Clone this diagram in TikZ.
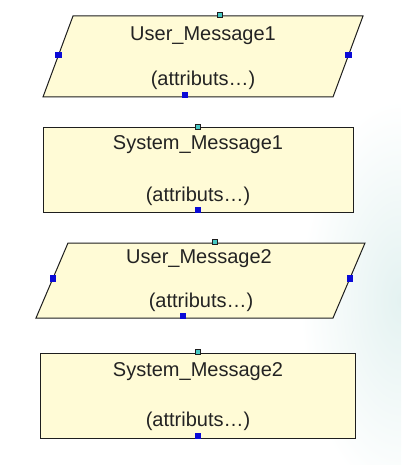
\documentclass[tikz,border=0pt]{standalone}
\usepackage{fontspec}
\setmainfont{Liberation Sans}
\usetikzlibrary{calc}
\definecolor{boxfill}{RGB}{255,251,214}
\definecolor{boxline}{RGB}{30,30,30}
\definecolor{txt}{RGB}{35,35,35}
\definecolor{hblue}{RGB}{10,10,215}
\definecolor{hcyan}{RGB}{70,200,195}
\definecolor{wm}{RGB}{228,242,241}
\begin{document}
\begin{tikzpicture}[x=1pt,y=-1pt,
  shapebox/.style={draw=boxline,fill=boxfill,line width=1pt},
  label/.style={font=\fontsize{20}{23}\selectfont,text=txt,inner sep=0pt},
  hb/.style={fill=hblue,draw=none,minimum size=6.5pt,inner sep=0pt},
  hc/.style={fill=hcyan,draw=boxline,line width=0.6pt,minimum size=5.5pt,inner sep=0pt}]
\useasboundingbox (0,0) rectangle (401,465);
\fill[white] (0,0) rectangle (401,465);
% faint watermark on the right
\begin{scope}
\clip (0,0) rectangle (401,465);
\shade[inner color=wm,outer color=white] (400,300) ellipse (100 and 200);
\end{scope}
% User_Message1
\coordinate (p1tl) at (73,16); \coordinate (p1tr) at (363,16);
\coordinate (p1br) at (333,97); \coordinate (p1bl) at (43,97);
\draw[shapebox] (p1tl) -- (p1tr) -- (p1br) -- (p1bl) -- cycle;
\node[label] (u1) at (203,36) {User\_Message1};
\node[label] (u1a) at (203,80) {(attributs…)};
\node[hc] (u1t) at (220,15) {};
\node[hb] (u1l) at ($(p1bl)!0.52!(p1tl)$) {};
\node[hb] (u1r) at ($(p1br)!0.52!(p1tr)$) {};
\node[hb] (u1b) at (185,95) {};
% System_Message1
\draw[shapebox] (43,128) rectangle (353,212);
\node[label] (s1) at (198,145) {System\_Message1};
\node[label] (s1a) at (198,196) {(attributs…)};
\node[hc] (s1t) at (198,127) {};
\node[hb] (s1b) at (198,210) {};
% User_Message2
\coordinate (p2tl) at (68,243); \coordinate (p2tr) at (365,243);
\coordinate (p2br) at (333,318); \coordinate (p2bl) at (36,318);
\draw[shapebox] (p2tl) -- (p2tr) -- (p2br) -- (p2bl) -- cycle;
\node[label] (u2) at (199,259) {User\_Message2};
\node[label] (u2a) at (201,302) {(attributs…)};
\node[hc] (u2t) at (215,242) {};
\node[hb] (u2l) at ($(p2bl)!0.53!(p2tl)$) {};
\node[hb] (u2r) at ($(p2br)!0.53!(p2tr)$) {};
\node[hb] (u2b) at (183,316) {};
% System_Message2
\draw[shapebox] (40,353) rectangle (355,438);
\node[label] (s2) at (198,372) {System\_Message2};
\node[label] (s2a) at (198,421) {(attributs…)};
\node[hc] (s2t) at (198,352) {};
\node[hb] (s2b) at (198,436) {};
\end{tikzpicture}
\end{document}
